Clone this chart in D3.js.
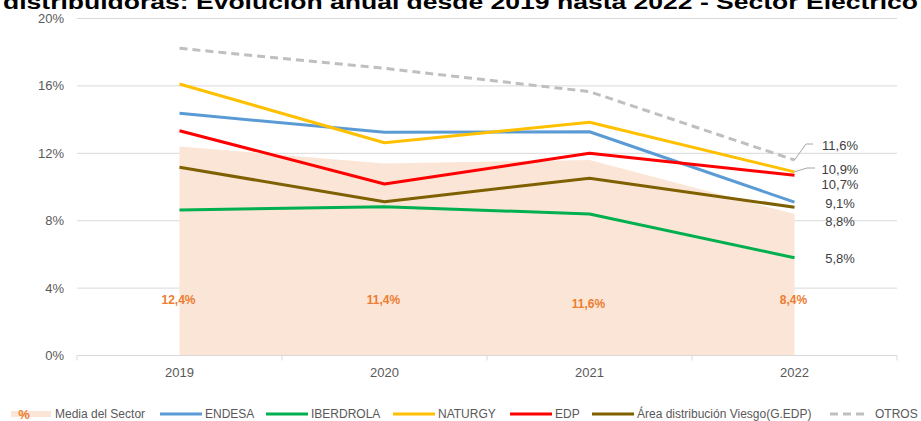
<!DOCTYPE html>
<html><head><meta charset="utf-8">
<script src="https://cdn.jsdelivr.net/npm/d3@7"></script>
<style>body{margin:0;background:#fff}svg{display:block;font-family:"Liberation Sans",Arial,sans-serif}</style>
</head><body>
<svg id="c" width="921" height="421"></svg>
<script>
const title = "distribuidoras: Evolución anual desde 2019 hasta 2022 - Sector Eléctrico";
const years = ["2019","2020","2021","2022"];
const media = [12.4, 11.4, 11.6, 8.4];
const mediaLabels = ["12,4%","11,4%","11,6%","8,4%"];
const endesa = [14.37, 13.25, 13.28, 9.1];
const iberdrola = [8.63, 8.83, 8.4, 5.8];
const naturgy = [16.11, 12.63, 13.84, 10.9];
const edp = [13.34, 10.18, 12.0, 10.7];
const viesgo = [11.17, 9.13, 10.52, 8.8];
const otros = [18.23, 17.04, 15.66, 11.6];
const yTicks = [0, 4, 8, 12, 16, 20];
const endLabels = ["11,6%","10,9%","10,7%","9,1%","8,8%","5,8%"];

const series = [
  {name:"ENDESA", values:endesa, color:"#5B9BD5", dash:null},
  {name:"IBERDROLA", values:iberdrola, color:"#00B050", dash:null},
  {name:"NATURGY", values:naturgy, color:"#FFC000", dash:null},
  {name:"EDP", values:edp, color:"#FF0000", dash:null},
  {name:"Área distribución Viesgo(G.EDP)", values:viesgo, color:"#7F6000", dash:null},
  {name:"OTROS", values:otros, color:"#BFBFBF", dash:"8,5"}
];

const svg = d3.select("#c");
const L = 77, R = 897, T = 18.5, B = 355.5;
const x = d3.scaleBand().domain(years).range([L, R]).padding(0);
const cx = d => x(d) + x.bandwidth()/2;
const y = d3.scaleLinear().domain([0, 20]).range([B, T]);

// title (cut at top)
svg.append("text").attr("x", 3).attr("y", 8.5)
  .attr("textLength", 915).attr("lengthAdjust","spacingAndGlyphs")
  .style("font-size","21px").style("font-weight","bold").attr("fill","#000").text(title);

// gridlines
svg.append("g").selectAll("line").data(yTicks.filter(t=>t>0)).join("line")
  .attr("x1", L).attr("x2", R).attr("y1", d=>y(d)).attr("y2", d=>y(d))
  .attr("stroke","#D9D9D9").attr("stroke-width",1);

// y labels
svg.append("g").selectAll("text").data(yTicks).join("text")
  .attr("x", 64).attr("y", d=>y(d)).attr("dy","0.35em").attr("text-anchor","end")
  .style("font-size","13px").attr("fill","#595959").text(d=>d+"%");

// area
const area = d3.area().x((d,i)=>cx(years[i])).y0(y(0)).y1(d=>y(d));
svg.append("path").datum(media).attr("d", area).attr("fill","#FBE5D6");

// x axis
const xAxis = svg.append("g").attr("transform",`translate(0,${B})`);
xAxis.append("line").attr("x1",L).attr("x2",R).attr("stroke","#D9D9D9").attr("stroke-width",1);
const edges = years.map(d=>x(d)).concat([R]);
xAxis.selectAll("line.tk").data(edges).join("line").attr("class","tk")
  .attr("x1",d=>d).attr("x2",d=>d).attr("y1",0).attr("y2",5).attr("stroke","#D9D9D9");
xAxis.selectAll("text").data(years).join("text")
  .attr("x", d=>cx(d)).attr("y", 21).attr("text-anchor","middle")
  .style("font-size","13px").attr("fill","#595959").text(d=>d);

// lines
const line = d3.line().x((d,i)=>cx(years[i])).y(d=>y(d));
series.forEach(s=>{
  svg.append("path").datum(s.values).attr("d", line).attr("fill","none")
    .attr("stroke", s.color).attr("stroke-width",3).attr("stroke-linejoin","round")
    .attr("stroke-dasharray", s.dash);
});

// media labels
const mlY = [300, 300, 304, 300];
svg.append("g").selectAll("text").data(mediaLabels).join("text")
  .attr("x",(d,i)=>cx(years[i])-1).attr("y",(d,i)=>mlY[i]).attr("dy","0.35em")
  .attr("text-anchor","middle").style("font-size","12px").style("font-weight","bold")
  .attr("fill","#ED7D31").text(d=>d);

// end labels
const lastX = cx(years[3]);
const endY = [145, 169, 184, 203, 221, 258];
svg.append("path").attr("d", `M${lastX},${y(otros[3])}L806,144L813,144`).attr("fill","none").attr("stroke","#A6A6A6").attr("stroke-width",1);
svg.append("path").attr("d", `M${lastX},${y(naturgy[3])}L807,168L815,168`).attr("fill","none").attr("stroke","#A6A6A6").attr("stroke-width",1);
svg.append("g").selectAll("text").data(endLabels).join("text")
  .attr("x", 840).attr("y",(d,i)=>endY[i]).attr("dy","0.35em").attr("text-anchor","middle")
  .style("font-size","13px").attr("fill","#404040").text(d=>d);

// legend
const lg = svg.append("g").style("font-size","12px").attr("fill","#595959");
const ly = 414;
lg.append("rect").attr("x",11).attr("y",ly-3).attr("width",40).attr("height",6).attr("fill","#FBE5D6");
lg.append("text").attr("x",24).attr("y",ly).attr("dy","0.35em").attr("text-anchor","middle")
  .style("font-size","13px").style("font-weight","bold").attr("fill","#ED7D31").text("%");
lg.append("text").attr("x",55).attr("y",ly).attr("dy","0.35em").text("Media del Sector");
const lpos = [160, 266, 393, 510, 592, 830];
series.forEach((s,i)=>{
  const x0 = lpos[i], len = s.dash ? 37 : 42;
  lg.append("line").attr("x1",x0).attr("x2",x0+len).attr("y1",ly).attr("y2",ly)
    .attr("stroke",s.color).attr("stroke-width",3).attr("stroke-dasharray",s.dash);
  lg.append("text").attr("x", x0+len+(s.dash?8:3)).attr("y",ly).attr("dy","0.35em").text(s.name);
});
</script>
</body></html>
